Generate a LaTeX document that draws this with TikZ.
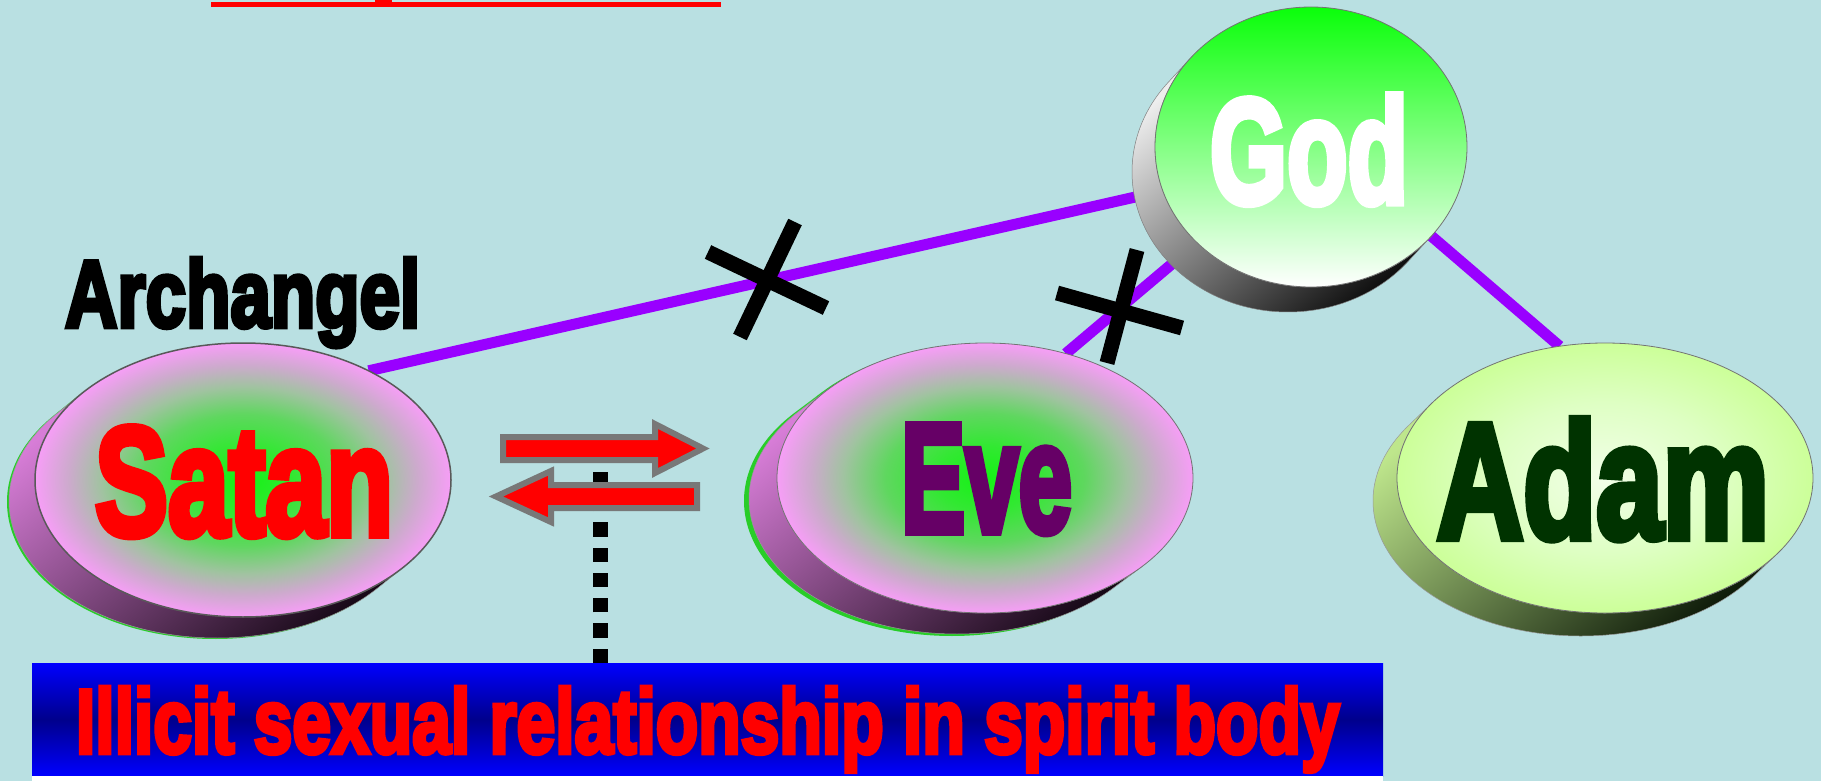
\documentclass[tikz,border=0pt]{standalone}
\usepackage{graphicx}
\usepackage{fontspec}
\newfontfamily\impact[FakeBold=5]{Liberation Sans Bold}
\usetikzlibrary{shapes.geometric,calc}
\pgfdeclarelayer{bg}
\pgfdeclarelayer{lines}
\pgfsetlayers{bg,lines,main}

\definecolor{bgcyan}{RGB}{185,224,226}
\definecolor{linepurple}{RGB}{153,0,255}
\definecolor{pinkE}{RGB}{246,158,246}
\definecolor{pinkM}{RGB}{205,170,205}
\definecolor{grayG}{RGB}{160,195,160}
\definecolor{greenM}{RGB}{95,215,95}
\definecolor{greenI}{RGB}{50,232,50}
\definecolor{greenC}{RGB}{20,242,20}
\definecolor{adamE}{RGB}{204,255,153}
\definecolor{adamM}{RGB}{222,255,195}
\definecolor{adamC}{RGB}{242,255,232}
\definecolor{godtop}{RGB}{10,255,10}
\definecolor{bannerblue}{RGB}{0,0,255}
\definecolor{bannerdark}{RGB}{0,0,140}
\definecolor{evetext}{RGB}{102,0,102}
\definecolor{adamtext}{RGB}{0,51,0}
\definecolor{rimgreen}{RGB}{40,205,40}
\definecolor{spiritL}{RGB}{215,125,215}
\definecolor{spiritD}{RGB}{22,8,22}
\definecolor{godL}{RGB}{238,238,238}
\definecolor{godD}{RGB}{10,10,10}
\definecolor{adamL}{RGB}{190,230,140}
\definecolor{adamD}{RGB}{10,22,6}
\definecolor{arrowgray}{RGB}{120,120,120}

\pgfdeclareradialshading{spiritface}{\pgfpoint{0bp}{0bp}}{color(0bp)=(greenC); color(6bp)=(greenI); color(12bp)=(greenM); color(17bp)=(grayG); color(21bp)=(pinkM); color(25bp)=(pinkE); color(50bp)=(pinkE)}
\pgfdeclareradialshading{adamface}{\pgfpoint{0bp}{0bp}}{color(0bp)=(adamC); color(14bp)=(adamM); color(25bp)=(adamE); color(50bp)=(adamE)}
\pgfdeclareverticalshading{bannershade}{100bp}{color(0bp)=(bannerblue); color(25bp)=(bannerblue); color(50bp)=(bannerdark); color(75bp)=(bannerblue); color(100bp)=(bannerblue)}

% side (extrusion) of a disc: cx, cy, rx, ry, dx, dy, options
\newcommand\discside[7]{%
  \pgfmathsetmacro\tA{atan2(-(#4)*(#5),(#3)*(#6))}%
  \pgfmathsetmacro\tB{\tA+180}%
  \begin{scope}[shift={(#1pt,#2pt)}]
    \path[#7] (\tA:#3pt and #4pt) -- ++(#5pt,#6pt)
      arc[start angle=\tA, end angle=\tB, x radius=#3pt, y radius=#4pt]
      -- (\tB:#3pt and #4pt)
      arc[start angle=\tB, end angle=\tA, x radius=#3pt, y radius=#4pt] -- cycle;
  \end{scope}}

\tikzset{
  face/.style={ellipse, inner sep=0pt, outer sep=0pt, shade, draw=black!55, line width=0.8pt},
  rel/.style={draw=linepurple, line width=11pt},
  xmark/.style={draw=black, line width=15pt},
  lbl/.style={anchor=base west, inner sep=0pt, outer sep=0pt},
  dotline/.style={draw=black, line width=15pt, dash pattern=on 14.3pt off 11pt},
  arrowshape/.style={fill=red, draw=arrowgray, line width=6pt, miter limit=10},
}

\begin{document}
\begin{tikzpicture}[x=1pt,y=1pt]
\useasboundingbox (0,0) rectangle (1821,-781);
\begin{pgfonlayer}{bg}
  \fill[bgcyan] (0,0) rectangle (1821,-781);
\end{pgfonlayer}

% top underline (cut-off heading)
\fill[red] (211,-2.3) rectangle (721,-6.7);
\fill[red] (375,0) rectangle (392,-6.7);

% Satan disc
\discside{241}{-481}{208}{137}{-26}{-21}{fill=rimgreen}
\discside{243}{-480}{208}{137}{-26}{-21}{top color=spiritL, bottom color=spiritD, shading angle=40, draw=black!40, line width=0.5pt}
\node[face, minimum width=416pt, minimum height=274pt, shading=spiritface, draw=black!65, line width=1.5pt] (satan) at (243,-480) {};

% Eve disc
\fill[rimgreen] (980,-480) ellipse[x radius=208pt, y radius=135pt];
\discside{980}{-480}{208}{135}{-28}{-21}{fill=rimgreen}
\discside{985}{-478}{208}{135}{-28}{-21}{top color=spiritL, bottom color=spiritD, shading angle=40, draw=black!40, line width=0.5pt}
\node[face, minimum width=416pt, minimum height=270pt, shading=spiritface] (eve) at (985,-478) {};

% God disc
\discside{1311}{-147}{156}{140}{-23}{-25}{top color=godL, bottom color=godD, shading angle=40, draw=black!50, line width=0.5pt}
\node[face, minimum width=312pt, minimum height=280pt, top color=godtop, bottom color=white] (god) at (1311,-147) {};

% Adam disc
\discside{1605}{-478}{208}{135}{-24}{-23}{top color=adamL, bottom color=adamD, shading angle=40, draw=black!40, line width=0.5pt}
\node[face, minimum width=416pt, minimum height=270pt, shading=adamface] (adam) at (1605,-478) {};

% connectors
\begin{pgfonlayer}{lines}
  \draw[rel] (satan.41) -- ($(god.center)+(-61,-24)$);
  \draw[rel] (eve.57) -- ($(god.center)+(-61,-51)$);
  \draw[rel] (adam.109) -- ($(god.center)+(69,-45)$);
\end{pgfonlayer}

% crossed-out marks
\draw[xmark] (708,-252) -- (826,-308);
\draw[xmark] (795,-222) -- (740,-337);
\draw[xmark] (1057,-293) -- (1182,-328);
\draw[xmark] (1137,-250) -- (1107,-363);

% labels
\node[lbl, text=black] (archlbl) at (65,-327) {\resizebox{355pt}{69pt}{\impact Archangel}};
\node[lbl, text=red] (satanlbl) at (95,-535) {\resizebox{298pt}{108pt}{\impact Satan}};
\node[lbl, text=evetext] (evelbl) at (901,-532) {\resizebox{171pt}{107pt}{\impact Eve}};
\node[lbl, text=white] (godlbl) at (1210,-203) {\resizebox{198pt}{108pt}{\impact God}};
\node[lbl, text=adamtext] (adamlbl) at (1437,-538) {\resizebox{332pt}{119pt}{\impact Adam}};

% banner
\node[rectangle, anchor=north west, minimum width=1351pt, minimum height=113pt, inner sep=0pt, outer sep=0pt, shade, shading=bannershade] (banner) at (32,-663) {};
\fill[white] (banner.south west) rectangle ++(1351,-5);
\node[lbl, text=red] (bannerlbl) at (76,-753) {\resizebox{1263pt}{66pt}{\impact Illicit sexual relationship in spirit body}};

% dotted link
\coordinate (dtop) at (600,-470);
\draw[dotline] (banner.north -| dtop) -- (dtop);

% double arrows
\path[arrowshape] (503,-437) -- (655,-437) -- (655,-424) -- (703,-448.5) -- (655,-473) -- (655,-460) -- (503,-460) -- cycle;
\path[arrowshape] (697,-485) -- (551,-485) -- (551,-471) -- (496,-496.5) -- (551,-522) -- (551,-508) -- (697,-508) -- cycle;
\end{tikzpicture}
\end{document}
